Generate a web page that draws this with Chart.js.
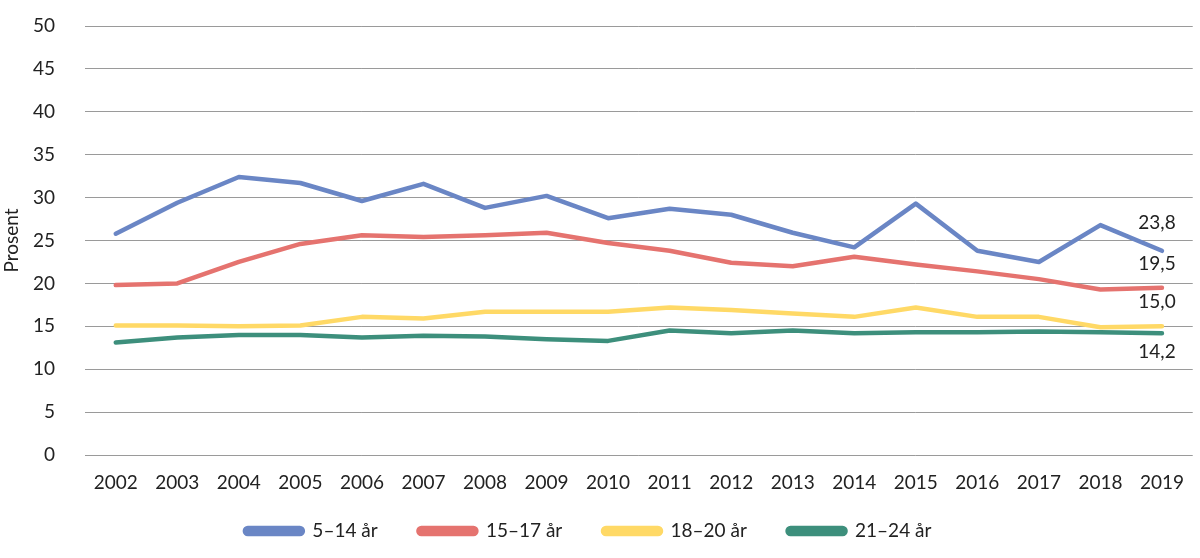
<!DOCTYPE html>
<html>
<head>
<meta charset="utf-8">
<script src="https://cdn.jsdelivr.net/npm/chart.js@4/dist/chart.umd.min.js"></script>
<style>
  html, body { margin: 0; padding: 0; background: #fff; }
  #wrap { width: 1200px; height: 558px; }
</style>
</head>
<body>
<div id="wrap"><canvas id="chart"></canvas></div>
<script>
const years = ['2002','2003','2004','2005','2006','2007','2008','2009','2010','2011','2012','2013','2014','2015','2016','2017','2018','2019'];
const age5to14 = [25.8, 29.4, 32.4, 31.7, 29.6, 31.6, 28.8, 30.2, 27.6, 28.7, 28.0, 25.9, 24.2, 29.3, 23.8, 22.5, 26.8, 23.8];
const age15to17 = [19.8, 20.0, 22.5, 24.6, 25.6, 25.4, 25.6, 25.9, 24.7, 23.8, 22.4, 22.0, 23.1, 22.2, 21.4, 20.5, 19.3, 19.5];
const age18to20 = [15.1, 15.1, 15.0, 15.1, 16.1, 15.9, 16.7, 16.7, 16.7, 17.2, 16.9, 16.5, 16.1, 17.2, 16.1, 16.1, 14.9, 15.0];
const age21to24 = [13.1, 13.7, 14.0, 14.0, 13.7, 13.9, 13.8, 13.5, 13.3, 14.5, 14.2, 14.5, 14.2, 14.3, 14.3, 14.4, 14.3, 14.2];
const seriesNames = ['5–14 år', '15–17 år', '18–20 år', '21–24 år'];
const endLabels = ['23,8', '19,5', '15,0', '14,2'];

const colors = ['#6a86c5', '#e5736f', '#ffd966', '#3d8f7c'];
const labelOffsets = [-28, -24, -24, 19];

const FONT = 'Lato, "Open Sans", sans-serif';
const TEXT = '#222';

// draws the value next to the last point of each line
const endLabelPlugin = {
    id: 'endLabels',
    afterDatasetsDraw(chart) {
        const ctx = chart.ctx;
        ctx.save();
        ctx.font = '19px ' + FONT;
        ctx.fillStyle = TEXT;
        ctx.textAlign = 'center';
        ctx.textBaseline = 'middle';
        chart.data.datasets.forEach((ds, i) => {
            const meta = chart.getDatasetMeta(i);
            const pt = meta.data[meta.data.length - 1];
            ctx.fillText(endLabels[i], pt.x - 5, pt.y + labelOffsets[i]);
        });
        ctx.restore();
    }
};

const allSeries = [age5to14, age15to17, age18to20, age21to24];

new Chart(document.getElementById('chart'), {
    type: 'line',
    data: {
        labels: years,
        datasets: allSeries.map((vals, i) => ({
            label: seriesNames[i],
            data: vals,
            borderColor: colors[i],
            backgroundColor: colors[i],
            borderWidth: 4.5,
            pointRadius: 0,
            tension: 0,
            borderCapStyle: 'round',
            borderJoinStyle: 'round'
        }))
    },
    options: {
        responsive: true,
        maintainAspectRatio: false,
        animation: false,
        layout: { padding: { top: 26, right: 0, left: 0, bottom: 7.5 } },
        plugins: {
            legend: {
                position: 'bottom',
                labels: {
                    font: { size: 19, family: FONT },
                    color: TEXT,
                    boxWidth: 58,
                    boxHeight: 6,
                    useBorderRadius: true,
                    borderRadius: 3,
                    padding: 17,
                    // extra gap between legend items
                    generateLabels: chart => Chart.defaults.plugins.legend.labels.generateLabels(chart)
                        .map(item => ({ ...item, text: item.text + '\u2003\u2002' }))
                }
            },
            tooltip: { enabled: false }
        },
        scales: {
            x: {
                offset: true,
                grid: { display: false, drawTicks: false },
                border: { display: false },
                ticks: { font: { size: 19, family: FONT }, color: TEXT, padding: 16, maxRotation: 0 },
                afterFit: scale => { scale.height = 49.5; }
            },
            y: {
                min: 0,
                max: 50,
                ticks: { stepSize: 5, font: { size: 19, family: FONT }, color: TEXT, padding: 4 },
                // invisible tick marks push the labels left without adding top padding
                grid: { color: '#9a9a9a', lineWidth: 1, drawTicks: true, tickLength: 26, tickColor: 'rgba(0,0,0,0)' },
                border: { display: false },
                title: { display: true, text: 'Prosent', font: { size: 19, family: FONT }, color: TEXT, padding: 0 },
                afterFit: scale => { scale.width = 85; }
            }
        }
    },
    plugins: [endLabelPlugin]
});
</script>
</body>
</html>
